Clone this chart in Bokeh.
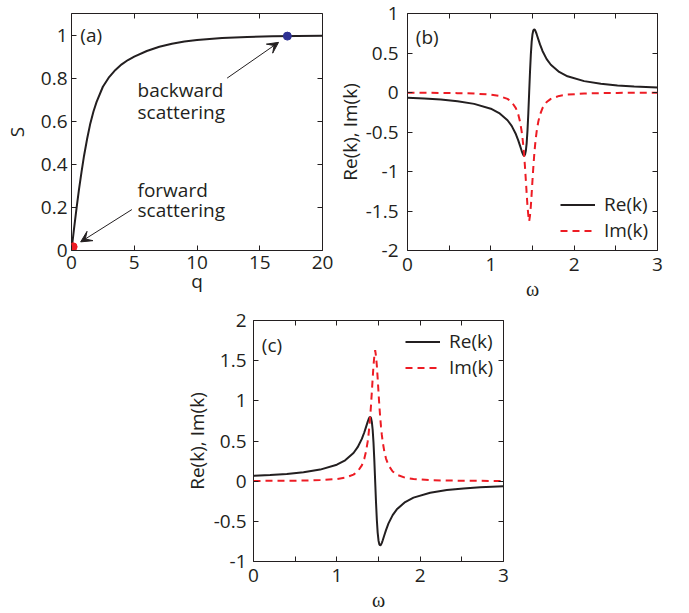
from bokeh.plotting import figure
from bokeh.layouts import column, row
from bokeh.models import (FixedTicker, CustomJSTickFormatter, LinearAxis, Range1d,
                          Label, Arrow, VeeHead, Legend, LegendItem)
from bokeh.embed import file_html
from bokeh.resources import INLINE

# ---------------- data ----------------
# panel (a): S(q)
q_vals = [0, 0.2, 0.4, 0.6, 0.8, 1.0, 1.25, 1.5, 1.75, 2.0, 2.5, 3.0, 3.5, 4.0, 4.5,
          5.0, 6.0, 7.0, 8.0, 9.0, 10, 12, 14, 16, 18, 20]
s_vals = [0, 0.10, 0.195, 0.285, 0.365, 0.44, 0.52, 0.59, 0.645, 0.69, 0.76, 0.805,
          0.838, 0.864, 0.884, 0.90, 0.926, 0.946, 0.960, 0.970, 0.977, 0.986, 0.991,
          0.994, 0.996, 0.997]
forward_q = [0.13]
forward_s = [0.017]
backward_q = [17.2]
backward_s = [0.995]

# panels (b) and (c): k(omega)
omega = [0, 0.2, 0.4, 0.6, 0.8, 1.0, 1.1, 1.2, 1.25, 1.3, 1.33, 1.35, 1.37, 1.38, 1.39,
         1.40, 1.41, 1.42, 1.43, 1.44, 1.45, 1.46, 1.47, 1.48, 1.49, 1.50, 1.51, 1.52,
         1.53, 1.54, 1.55, 1.57, 1.59, 1.62, 1.67, 1.72, 1.82, 1.92, 2.12, 2.32, 2.52,
         2.72, 3.0]
re_b = [-0.066, -0.076, -0.090, -0.111, -0.144, -0.205, -0.260, -0.351, -0.423, -0.526,
        -0.609, -0.673, -0.738, -0.768, -0.791, -0.800, -0.787, -0.738, -0.640, -0.480,
        -0.259, 0.000, 0.259, 0.480, 0.640, 0.738, 0.787, 0.800, 0.791, 0.768, 0.738,
        0.673, 0.609, 0.526, 0.423, 0.351, 0.260, 0.205, 0.144, 0.111, 0.090, 0.076, 0.062]
im_b = [-0.003, -0.004, -0.005, -0.008, -0.013, -0.027, -0.043, -0.081, -0.121, -0.197,
        -0.281, -0.367, -0.492, -0.576, -0.678, -0.800, -0.944, -1.108, -1.280, -1.440,
        -1.557, -1.630, -1.557, -1.440, -1.280, -1.108, -0.944, -0.800, -0.678, -0.576,
        -0.492, -0.367, -0.281, -0.197, -0.121, -0.081, -0.043, -0.027, -0.013, -0.008,
        -0.005, -0.004, -0.002]
re_c = [0.066, 0.076, 0.090, 0.111, 0.144, 0.205, 0.260, 0.351, 0.423, 0.526,
        0.609, 0.673, 0.738, 0.768, 0.791, 0.800, 0.787, 0.738, 0.640, 0.480,
        0.259, 0.000, -0.259, -0.480, -0.640, -0.738, -0.787, -0.800, -0.791, -0.768,
        -0.738, -0.673, -0.609, -0.526, -0.423, -0.351, -0.260, -0.205, -0.144, -0.111,
        -0.090, -0.076, -0.062]
im_c = [0.003, 0.004, 0.005, 0.008, 0.013, 0.027, 0.043, 0.081, 0.121, 0.197,
        0.281, 0.367, 0.492, 0.576, 0.678, 0.800, 0.944, 1.108, 1.280, 1.440,
        1.557, 1.630, 1.557, 1.440, 1.280, 1.108, 0.944, 0.800, 0.678, 0.576,
        0.492, 0.367, 0.281, 0.197, 0.121, 0.081, 0.043, 0.027, 0.013, 0.008,
        0.005, 0.004, 0.002]

# ticks
a_xticks = [0, 5, 10, 15, 20]
a_yticks = [0, 0.2, 0.4, 0.6, 0.8, 1]
w_xticks = [0, 1, 2, 3]
w_xminor = [0.5, 1.5, 2.5]
b_yticks = [-2, -1.5, -1, -0.5, 0, 0.5, 1]
c_yticks = [-1, -0.5, 0, 0.5, 1, 1.5, 2]

# ---------------- style ----------------
FONT = "Open Sans"
SERIF = "Liberation Serif"
FS = "19px"
INK = "#231f20"
RED = "#ed1c24"
BLUE = "#2e3192"


def make_fig(width, height, bl, br, bt, bb, xr, yr):
    p = figure(width=width, height=height, x_range=Range1d(*xr), y_range=Range1d(*yr),
               output_backend="svg", toolbar_location=None,
               min_border_left=bl, min_border_right=br,
               min_border_top=bt, min_border_bottom=bb)
    p.grid.visible = False
    p.outline_line_color = INK
    p.outline_line_width = 1
    p.outline_line_alpha = 1
    p.background_fill_color = "white"
    p.border_fill_color = "white"
    return p


def cfg_axis(ax, ticks, minor=None, show=True, standoff=5, label_standoff=5,
             label_font=FONT, label_size=FS):
    ax.ticker = FixedTicker(ticks=ticks, minor_ticks=minor or [])
    ax.axis_line_color = None
    ax.major_tick_in = 5
    ax.major_tick_out = 0
    ax.minor_tick_in = 5
    ax.minor_tick_out = 0
    ax.major_tick_line_color = INK
    ax.minor_tick_line_color = INK
    ax.major_label_text_font = FONT
    ax.major_label_text_color = INK
    if show:
        ax.formatter = CustomJSTickFormatter(code="return String(tick);")
        ax.major_label_text_font_size = FS
        ax.major_label_standoff = standoff
    else:
        ax.formatter = CustomJSTickFormatter(code="return '';")
        ax.major_label_text_font_size = "0px"
        ax.major_label_standoff = 0
    ax.axis_label_text_font = label_font
    ax.axis_label_text_font_size = label_size
    ax.axis_label_text_font_style = "normal"
    ax.axis_label_text_color = INK
    ax.axis_label_standoff = label_standoff


def add_box_axes(p, xt, yt, xminor=None):
    top = LinearAxis()
    right = LinearAxis()
    p.add_layout(top, "above")
    p.add_layout(right, "right")
    cfg_axis(top, xt, xminor, show=False)
    cfg_axis(right, yt, None, show=False)


ROW1_H = 302

# ---------------- panel (a) ----------------
pa = make_fig(333, ROW1_H, 70, 11, 13, 50, (0, 20), (0, 1.1))
cfg_axis(pa.xaxis[0], a_xticks, standoff=5, label_standoff=-4)
cfg_axis(pa.yaxis[0], a_yticks, standoff=4, label_standoff=8)
pa.xaxis[0].axis_label = "q"
pa.yaxis[0].axis_label = "S"
add_box_axes(pa, a_xticks, a_yticks)
pa.line(q_vals, s_vals, line_color=INK, line_width=2)
pa.scatter(forward_q, forward_s, size=8, fill_color=RED, line_color=RED)
pa.scatter(backward_q, backward_s, size=8, fill_color=BLUE, line_color=BLUE)
pa.add_layout(Label(x=0.7, y=1.0, text="(a)", text_font=FONT, text_font_size=FS,
                    text_baseline="middle", text_color=INK))
for txt, yy in [("backward", 0.744), ("scattering", 0.641),
                ("forward", 0.282), ("scattering", 0.186)]:
    pa.add_layout(Label(x=5.26, y=yy, text=txt, text_font=FONT, text_font_size=FS,
                        text_baseline="alphabetic", text_color=INK))
pa.add_layout(Arrow(end=VeeHead(size=11, fill_color=INK, line_color=INK, line_width=1),
                    x_start=12.4, y_start=0.80, x_end=16.5, y_end=0.966,
                    line_color=INK, line_width=1))
pa.add_layout(Arrow(end=VeeHead(size=11, fill_color=INK, line_color=INK, line_width=1),
                    x_start=4.81, y_start=0.19, x_end=0.73, y_end=0.04,
                    line_color=INK, line_width=1))


def k_panel(width, height, bl, br, bt, bb, yr, yticks, re_vals, im_vals, tag, tag_y,
            leg_loc, ystand, ylstand):
    p = make_fig(width, height, bl, br, bt, bb, (0, 3), yr)
    cfg_axis(p.xaxis[0], w_xticks, w_xminor, standoff=7, label_standoff=4,
             label_font=SERIF, label_size="20px")
    cfg_axis(p.yaxis[0], yticks, standoff=ystand, label_standoff=ylstand)
    p.xaxis[0].axis_label = "\u03c9"
    p.yaxis[0].axis_label = "Re(k), Im(k)"
    add_box_axes(p, w_xticks, yticks, w_xminor)
    r1 = p.line(omega, re_vals, line_color=INK, line_width=2)
    r2 = p.line(omega, im_vals, line_color=RED, line_width=2, line_dash="7 5")
    p.add_layout(Label(x=0.1, y=tag_y, text=tag, text_font=FONT, text_font_size=FS,
                       text_baseline="middle", text_color=INK))
    leg = Legend(items=[LegendItem(label="Re(k)", renderers=[r1]),
                        LegendItem(label="Im(k)", renderers=[r2])],
                 location=leg_loc, border_line_color=None, background_fill_alpha=0,
                 padding=0, margin=0, spacing=0, label_height=25, glyph_height=25,
                 glyph_width=35, label_standoff=9, label_text_font=FONT,
                 label_text_font_size=FS, label_text_color=INK)
    p.add_layout(leg)
    return p


pb = k_panel(356, ROW1_H, 73, 32, 13, 50, (-2, 1), b_yticks, re_b, im_b, "(b)", 0.70,
             (153, 7), 9, 0)
pc = k_panel(689, 311, 253, 186, 18, 50, (-1, 2), c_yticks, re_c, im_c, "(c)", 1.70,
             (152, 181), 7, 1)

layout = column(row(pa, pb), pc)

open("out.html", "w").write(file_html(layout, INLINE))
